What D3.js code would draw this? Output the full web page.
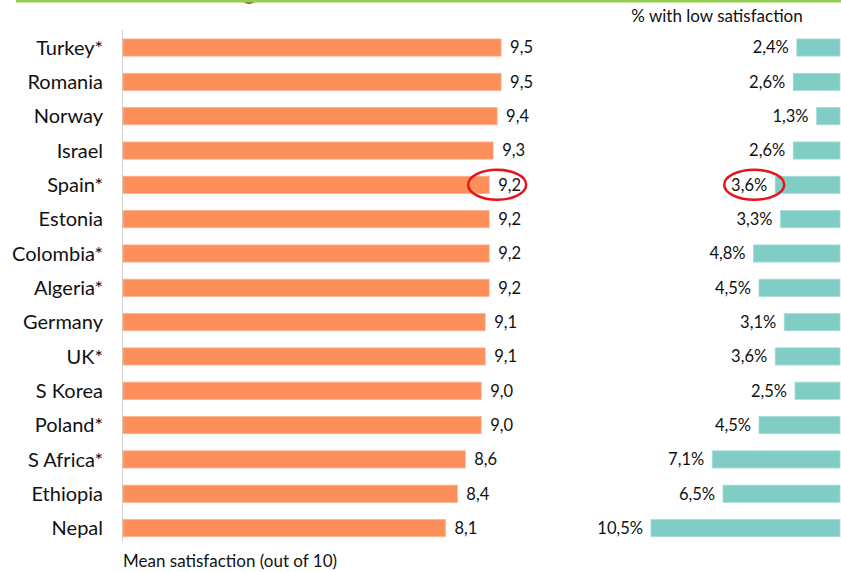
<!DOCTYPE html>
<html>
<head>
<meta charset="utf-8">
<script src="https://cdn.jsdelivr.net/npm/d3@7"></script>
<style>
  body { margin: 0; background: #fff; }
  svg text { font-family: "Lato", "Open Sans", sans-serif; fill: #111; }
</style>
</head>
<body>
<div id="chart"></div>
<script>
// data
var countries = ["Turkey*", "Romania", "Norway", "Israel", "Spain*", "Estonia", "Colombia*",
  "Algeria*", "Germany", "UK*", "S Korea", "Poland*", "S Africa*", "Ethiopia", "Nepal"];
var meanSat = [9.5, 9.5, 9.4, 9.3, 9.2, 9.2, 9.2, 9.2, 9.1, 9.1, 9.0, 9.0, 8.6, 8.4, 8.1];
var lowSat = [2.4, 2.6, 1.3, 2.6, 3.6, 3.3, 4.8, 4.5, 3.1, 3.6, 2.5, 4.5, 7.1, 6.5, 10.5];
var highlight = "Spain*";

var width = 841, height = 572;

var svg = d3.select("#chart")
  .append("svg")
  .attr("width", width)
  .attr("height", height);

var fmt = function(v){ return d3.format(".1f")(v).replace(".", ","); };

// row positions
var y = d3.scaleBand()
  .domain(countries)
  .range([21.8, 553.8])
  .paddingInner(0.5)
  .paddingOuter(0.5);

// left bars: mean satisfaction
var x = d3.scaleLinear().domain([0, 10]).range([123, 521]);
// right bars: % low satisfaction, growing leftwards
var x2 = d3.scaleLinear().domain([0, 10]).range([840, 660]);

// top green rule and the clipped ornament
svg.append("circle")
  .attr("cx", 249).attr("cy", -5).attr("r", 9)
  .attr("fill", "#a0441a");
svg.append("rect")
  .attr("x", 16).attr("y", 0).attr("width", width - 16).attr("height", 2.5)
  .attr("fill", "#92d050");

// axis line
svg.append("line")
  .attr("x1", 122.5).attr("x2", 122.5)
  .attr("y1", 30).attr("y2", 541)
  .attr("stroke", "#d0d0d0").attr("stroke-width", 1);

var rows = svg.selectAll("g.row")
  .data(countries)
  .enter().append("g")
  .attr("class", "row");

rows.append("text")
  .attr("x", 103)
  .attr("y", function(d){ return y(d) + y.bandwidth() / 2; })
  .attr("dy", "0.36em")
  .attr("text-anchor", "end")
  .style("font-size", "20px")
  .text(function(d){ return d; });

rows.append("rect")
  .attr("x", x(0))
  .attr("y", function(d){ return y(d); })
  .attr("width", function(d, i){ return x(meanSat[i]) - x(0); })
  .attr("height", y.bandwidth())
  .attr("fill", "#fd8f5a")
  .attr("stroke", "#fdb08c").attr("stroke-width", 0.8);

rows.append("text")
  .attr("x", function(d, i){ return x(meanSat[i]) + 9; })
  .attr("y", function(d){ return y(d) + y.bandwidth() / 2; })
  .attr("dy", "0.36em")
  .style("font-size", "16.5px")
  .text(function(d, i){ return fmt(meanSat[i]); });

rows.append("rect")
  .attr("x", function(d, i){ return x2(lowSat[i]); })
  .attr("y", function(d){ return y(d); })
  .attr("width", function(d, i){ return x2(0) - x2(lowSat[i]); })
  .attr("height", y.bandwidth())
  .attr("fill", "#7fcdc4")
  .attr("stroke", "#a6dcd6").attr("stroke-width", 0.8);

rows.append("text")
  .attr("x", function(d, i){ return x2(lowSat[i]) - 8; })
  .attr("y", function(d){ return y(d) + y.bandwidth() / 2; })
  .attr("dy", "0.36em")
  .attr("text-anchor", "end")
  .style("font-size", "16.5px")
  .text(function(d, i){ return fmt(lowSat[i]) + "%"; });

// red highlight ellipses
var hi = countries.indexOf(highlight);
var cy = y(highlight) + y.bandwidth() / 2;
svg.append("ellipse")
  .attr("cx", x(meanSat[hi]) + 8).attr("cy", cy)
  .attr("rx", 29).attr("ry", 15)
  .attr("fill", "none").attr("stroke", "#e8141c").attr("stroke-width", 2.5);
svg.append("ellipse")
  .attr("cx", x2(lowSat[hi]) - 21).attr("cy", cy)
  .attr("rx", 30).attr("ry", 15)
  .attr("fill", "none").attr("stroke", "#e8141c").attr("stroke-width", 2.5);

// titles
svg.append("text")
  .attr("x", 717).attr("y", 22)
  .attr("text-anchor", "middle")
  .style("font-size", "17px")
  .text("% with low satisfaction");

svg.append("text")
  .attr("x", 123).attr("y", 567)
  .style("font-size", "17px")
  .text("Mean satisfaction (out of 10)");
</script>
</body>
</html>
